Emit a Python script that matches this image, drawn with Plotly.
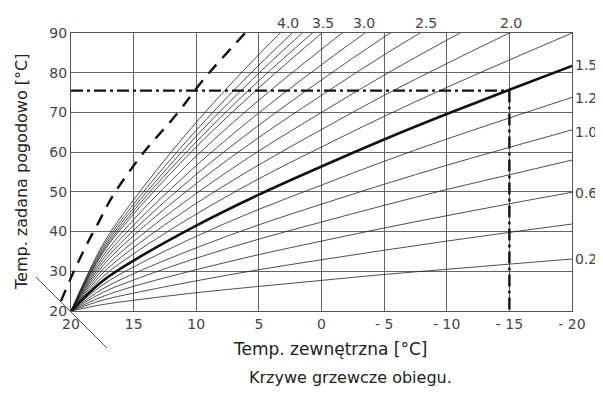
import plotly.graph_objects as go

# ---------------- data ----------------
x_out = [20, 17.5, 15, 10, 5, 0, -5, -10, -15, -20]
x_tick_vals = [20, 15, 10, 5, 0, -5, -10, -15, -20]
x_tick_text = ["20", "15", "10", "5", "0", "- 5", "- 10", "- 15", "- 20"]
y_tick_vals = [20, 30, 40, 50, 60, 70, 80, 90]

# gentle curves (end on the right edge)
curve_0_2 = [20, 21.6, 22.7, 24.6, 26.2, 27.7, 29.2, 30.5, 31.8, 33.1]
curve_0_4 = [20, 22.7, 24.5, 27.6, 30.4, 32.9, 35.3, 37.6, 39.8, 41.9]
curve_0_6 = [20, 23.6, 26.2, 30.4, 34.2, 37.6, 40.9, 44.0, 47.0, 49.9]
curve_0_8 = [20, 24.6, 27.8, 33.3, 38.1, 42.4, 46.6, 50.6, 54.3, 58.0]
curve_1_0 = [20, 25.5, 29.4, 35.9, 41.7, 46.9, 51.9, 56.7, 61.2, 65.6]
curve_1_2 = [20, 26.5, 31.1, 38.8, 45.6, 51.7, 57.7, 63.3, 68.6, 73.8]
curve_1_5 = [20, 27.5, 32.7, 41.5, 49.3, 56.4, 63.2, 69.6, 75.7, 81.7]   # bold
curve_1_8 = [20, 28.5, 34.4, 44.4, 53.3, 61.3, 69.0, 76.3, 83.2, 90.0]
# steep curves (leave through the top)
curve_2_0 = [20, 29.4, 36.0, 47.1, 56.8, 65.7, 74.3, 82.3, 90.0, 97.5]
curve_2_25 = [20, 30.3, 37.5, 49.6, 60.3, 70.0, 79.4, 88.2, 96.6]
curve_2_5 = [20, 31.2, 39.0, 52.1, 63.7, 74.3, 84.5, 94.0]
curve_2_75 = [20, 32.0, 40.3, 54.4, 66.8, 78.2, 89.0, 99.3]
curve_3_0 = [20, 32.8, 41.6, 56.6, 69.9, 82.0, 93.5]
curve_3_25 = [20, 33.6, 43.0, 59.0, 73.1, 85.9, 98.2]
curve_3_5 = [20, 34.4, 44.4, 61.3, 76.2, 89.9, 102.9]
curve_3_6 = [20, 34.8, 45.2, 62.6, 78.0, 92.0]
curve_3_75 = [20, 35.3, 46.0, 64.0, 79.9, 94.4]
curve_3_9 = [20, 35.9, 46.9, 65.5, 81.9, 96.9]
curve_4_0 = [20, 36.5, 48.0, 67.5, 84.6, 100.2]

thin_curves = [curve_0_2, curve_0_4, curve_0_6, curve_0_8, curve_1_0, curve_1_2,
               curve_1_8, curve_2_0, curve_2_25, curve_2_5, curve_2_75, curve_3_0,
               curve_3_25, curve_3_5, curve_3_6, curve_3_75, curve_3_9, curve_4_0]

# shifted (dashed) curve and room-temperature diagonal
dashed_x = [20.8, 19.8, 18.7, 17.8, 16.7, 14.3, 11.5, 9.5, 6.1]
dashed_y = [22.5, 29.8, 37.0, 42.3, 48.8, 59.5, 69.8, 78.0, 90.0]
diag_x = [22.79, 17.13]
diag_y = [28.56, 10.68]

# example operating point
design_outdoor = -15
design_flow = 75.5

top_labels = ["4.0", "3.5", "3.0", "2.5", "2.0"]
top_label_x = [2.67, -0.12, -3.39, -8.34, -15.13]
right_labels = ["1.5", "1.2", "1.0", "0.6", "0.2"]
right_label_y = [81.9, 73.6, 65.1, 49.7, 33.1]

# ---------------- layout geometry ----------------
# page body has an 8px margin, so the figure is 8px smaller than the window
OFF = 8
W, H = 603 - OFF, 394 - OFF
PL, PR, PT, PB = 71 - OFF, 31, 33 - OFF, 83
x_lo, x_hi = 20, -20
y_lo, y_hi = 20, 90
px_per_x = (W - PL - PR) / (x_lo - x_hi)
px_per_y = (H - PT - PB) / (y_hi - y_lo)

FONT = "DejaVu Sans"
TXT = "#444444"
GRID = "#666666"

fig = go.Figure()

for ys in thin_curves:
    fig.add_trace(go.Scatter(x=x_out[:len(ys)], y=ys, mode="lines",
                             line=dict(color="#222222", width=0.8, shape="spline"),
                             hoverinfo="skip", showlegend=False))

fig.add_trace(go.Scatter(x=x_out, y=curve_1_5, mode="lines",
                         line=dict(color="#111111", width=2.6, shape="spline"),
                         hoverinfo="skip", showlegend=False))

# dash-dot construction lines
fig.add_trace(go.Scatter(x=[x_lo, design_outdoor], y=[design_flow, design_flow], mode="lines",
                         line=dict(color="#111111", width=2.4, dash="12px,4px,3px,4px"),
                         hoverinfo="skip", showlegend=False))
fig.add_trace(go.Scatter(x=[design_outdoor, design_outdoor], y=[design_flow, y_lo], mode="lines",
                         line=dict(color="#111111", width=2.4, dash="12px,4px,3px,4px"),
                         hoverinfo="skip", showlegend=False))

# elements that extend outside the frame -> full-figure axes
fig.add_trace(go.Scatter(x=dashed_x, y=dashed_y, mode="lines", xaxis="x2", yaxis="y2",
                         line=dict(color="#111111", width=2.4, dash="12px,9px", shape="spline"),
                         hoverinfo="skip", showlegend=False))
fig.add_trace(go.Scatter(x=diag_x, y=diag_y, mode="lines", xaxis="x2", yaxis="y2",
                         line=dict(color="#555555", width=1),
                         hoverinfo="skip", showlegend=False))

annotations = []
for t, xv in zip(top_labels, top_label_x):
    annotations.append(dict(x=xv, y=y_hi, xref="x", yref="y", text=t, showarrow=False,
                            xanchor="center", yanchor="bottom", yshift=0,
                            font=dict(family=FONT, size=14, color=TXT)))
for t, yv in zip(right_labels, right_label_y):
    annotations.append(dict(x=x_hi, y=yv, xref="x", yref="y", text=t, showarrow=False,
                            xanchor="left", yanchor="middle", xshift=1,
                            font=dict(family=FONT, size=14, color=TXT)))
annotations.append(dict(x=(22 - OFF) / W, y=1 - (172 - OFF) / H, xref="paper", yref="paper",
                        text="Temp. zadana pogodowo [°C]", showarrow=False, textangle=-90,
                        xanchor="center", yanchor="middle",
                        font=dict(family=FONT, size=16, color="#222222")))
annotations.append(dict(x=(330 - OFF) / W, y=1 - (349 - OFF) / H, xref="paper", yref="paper",
                        text="Temp. zewnętrzna [°C]", showarrow=False,
                        xanchor="center", yanchor="middle",
                        font=dict(family=FONT, size=17, color="#222222")))
annotations.append(dict(x=(350 - OFF) / W, y=1 - (377 - OFF) / H, xref="paper", yref="paper",
                        text="Krzywe grzewcze obiegu.", showarrow=False,
                        xanchor="center", yanchor="middle",
                        font=dict(family=FONT, size=16, color="#222222")))

fig.update_layout(
    width=W, height=H, autosize=False,
    margin=dict(l=0, r=0, t=0, b=0),
    paper_bgcolor="white", plot_bgcolor="rgba(0,0,0,0)",
    annotations=annotations,
    xaxis=dict(domain=[PL / W, (W - PR) / W], range=[x_lo, x_hi], anchor="y",
               tickvals=x_tick_vals, ticktext=x_tick_text, ticks="",
               showgrid=True, gridcolor=GRID, gridwidth=1, zeroline=False,
               showline=True, mirror=True, linecolor="#555555", linewidth=1,
               tickfont=dict(family=FONT, size=14, color=TXT), automargin=False),
    yaxis=dict(domain=[PB / H, (H - PT) / H], range=[y_lo, y_hi], anchor="x",
               tickvals=y_tick_vals, ticks="",
               showgrid=True, gridcolor=GRID, gridwidth=1, zeroline=False,
               showline=True, mirror=True, linecolor="#555555", linewidth=1,
               tickfont=dict(family=FONT, size=14, color=TXT), automargin=False),
    xaxis2=dict(domain=[0, 1], anchor="y2", visible=False,
                range=[x_lo + PL / px_per_x, x_hi - PR / px_per_x]),
    yaxis2=dict(domain=[0, 1], anchor="x2", visible=False,
                range=[y_lo - PB / px_per_y, y_hi + PT / px_per_y]),
)

fig.write_html("out.html")
